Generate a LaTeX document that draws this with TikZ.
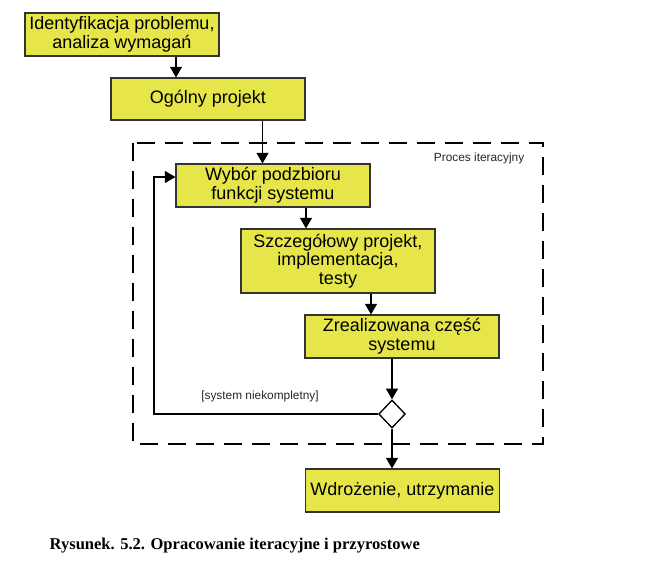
\documentclass[tikz,border=0pt]{standalone}
\usepackage{fontspec}
\setmainfont{Liberation Sans}
\newfontfamily\capserif{Liberation Serif}
\usetikzlibrary{arrows.meta,shapes.geometric}
\definecolor{boxyellow}{HTML}{E6E64A}
\definecolor{boxline}{HTML}{333333}
\tikzset{
	krok/.style={draw=boxline,fill=boxyellow,line width=0.8pt,inner sep=0pt,
		align=center,font=\fontsize{13.5}{14}\selectfont},
	arr/.style={-{Triangle[width=9pt,length=8pt]},line width=1pt},
	opis/.style={font=\fontsize{8.9}{10}\selectfont,text=black!85}
}
\begin{document}
\begin{tikzpicture}[x=0.75pt,y=-0.75pt]
	\useasboundingbox (0,0) rectangle (647,581);
	% boxes
	\node[krok,minimum width=145.5pt,minimum height=32.25pt] (ident) at (122,34.5) {Identyfikacja problemu,\\analiza wymagań};
	\node[krok,minimum width=145.5pt,minimum height=31.5pt] (ogolny) at (208,99) {Ogólny projekt};
	\node[krok,minimum width=145.5pt,minimum height=32.25pt] (wybor) at (273,185.5) {Wybór podzbioru\\funkcji systemu};
	\node[krok,minimum width=145.5pt,minimum height=48pt] (szczeg) at (338,261) {Szczegółowy projekt,\\implementacja,\\testy};
	\node[krok,minimum width=145.5pt,minimum height=32.25pt] (czesc) at (402,336.5) {Zrealizowana część\\systemu};
	\node[draw=black,fill=white,diamond,line width=1pt,inner sep=0pt,minimum width=20pt,minimum height=21pt] (decyzja) at (392,414) {};
	\node[krok,minimum width=145pt,minimum height=32.25pt] (wdroz) at (402.5,490.5) {Wdrożenie, utrzymanie};
	% iteration frame
	\draw[dash pattern=on 13.5pt off 7.5pt,line width=0.8pt] (133,143) rectangle (543,444);
	\node[opis,anchor=east] (proces) at (529,158) {Proces iteracyjny};
	\node[opis] (warunek) at (260,396) {[system niekompletny]};
	% arrows
	\coordinate (x1) at (176,0);
	\coordinate (x2) at (262.5,0);
	\coordinate (x3) at (306,0);
	\coordinate (x4) at (371,0);
	\coordinate (powrot) at (154,177);
	\draw[arr] (ident.south -| x1) -- (ogolny.north -| x1);
	\draw[arr] (ogolny.south -| x2) -- (wybor.north -| x2);
	\draw[arr] (wybor.south -| x3) -- (szczeg.north -| x3);
	\draw[arr] (szczeg.south -| x4) -- (czesc.north -| x4);
	\draw[arr] (czesc.south -| decyzja) -- (decyzja.north);
	\draw[arr] (decyzja.south) -- (wdroz.north -| decyzja);
	\draw[arr] (decyzja.west) -| (powrot) -- (wybor.west |- powrot);
	% caption
	\node[anchor=west,font=\capserif\bfseries\fontsize{12.4}{14}\selectfont] (podpis) at (45,546) {Rysunek. 5.2. Opracowanie iteracyjne i przyrostowe};
\end{tikzpicture}
\end{document}
